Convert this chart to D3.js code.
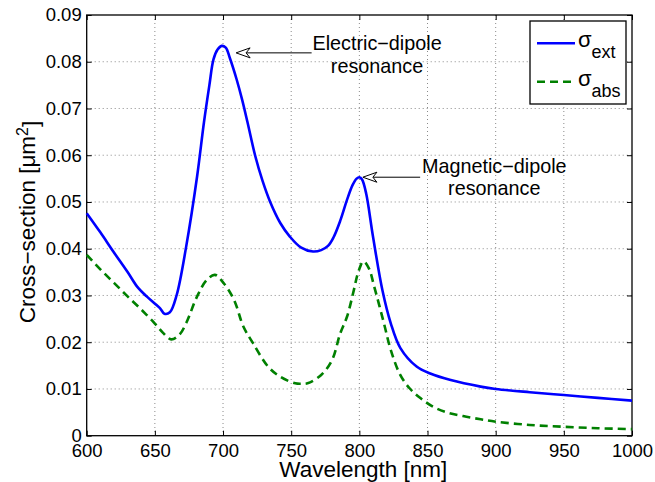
<!DOCTYPE html>
<html>
	<head>
		<script type="text/javascript" src="https://cdn.jsdelivr.net/npm/d3@7/dist/d3.min.js"></script>
		<style>
body {
	margin: 0;
	background-color: white;
}

text {
	font-family: "Liberation Sans", Arial, Helvetica, sans-serif;
	fill: black;
}

line.grid {
	stroke: #8a8a8a;
	stroke-width: 1;
	stroke-dasharray: 1,3;
}
		</style>
	</head>
	<body>
		<script>

// wavelength [nm] and cross-section [um^2]
var extWl = [600, 610, 619.5, 630, 637, 644, 651, 654, 657, 661, 666, 673, 681, 686, 690, 693, 696, 699, 702, 705, 710, 714, 718, 723.5, 729, 734.6, 742, 749, 757, 766, 772, 777, 781, 786, 791, 795, 798, 800, 802, 805, 810, 817, 823, 830, 842, 852, 867, 889, 900, 925, 950, 975, 1000];
var extVal = [0.0476, 0.0435, 0.0394, 0.0350, 0.0319, 0.0298, 0.0280, 0.0272, 0.0261, 0.0264, 0.0301, 0.0405, 0.0555, 0.0670, 0.0750, 0.0805, 0.0826, 0.0834, 0.0830, 0.0808, 0.0762, 0.0719, 0.0670, 0.0600, 0.0545, 0.0500, 0.0455, 0.0426, 0.0403, 0.0394, 0.0397, 0.0406, 0.0424, 0.0460, 0.0505, 0.0536, 0.0550, 0.0553, 0.0548, 0.0518, 0.0426, 0.0310, 0.0241, 0.0188, 0.0148, 0.0133, 0.0119, 0.0105, 0.0100, 0.0093, 0.0087, 0.0081, 0.0075];

var absWl = [600, 610, 620, 630, 640, 650, 656, 662, 668, 673, 681, 688, 694, 700, 708, 715, 722, 733, 742, 753, 757, 762, 772, 780, 786, 791, 796, 799, 803, 807, 811, 818, 823, 830, 837, 845, 854, 864, 876, 889, 900, 925, 950, 975, 1000];
var absVal = [0.0387, 0.0356, 0.0327, 0.0298, 0.0270, 0.0240, 0.0220, 0.0206, 0.0216, 0.0241, 0.0298, 0.0333, 0.0344, 0.0328, 0.0291, 0.0233, 0.0198, 0.0148, 0.0126, 0.0112, 0.0111, 0.0112, 0.0130, 0.0162, 0.0219, 0.0255, 0.0312, 0.0348, 0.0373, 0.0358, 0.0318, 0.0241, 0.0184, 0.0130, 0.0101, 0.0080, 0.0062, 0.0050, 0.0042, 0.0035, 0.0030, 0.0023, 0.0019, 0.0016, 0.0014];

var xTicks = [600, 650, 700, 750, 800, 850, 900, 950, 1000];
var yTicks = [0, 0.01, 0.02, 0.03, 0.04, 0.05, 0.06, 0.07, 0.08, 0.09];

var w = 655;
var h = 482;
var margin = {top: 15, right: 23, bottom: 46.3, left: 86.7};
var pw = w - margin.left - margin.right;
var ph = h - margin.top - margin.bottom;

var svg = d3.select("body").append("svg")
	.attr("width", w)
	.attr("height", h);

var g = svg.append("g")
	.attr("transform", "translate(" + margin.left + "," + margin.top + ")");

var x = d3.scaleLinear().domain([600, 1000]).range([0, pw]);
var y = d3.scaleLinear().domain([0, 0.09]).range([ph, 0]);

// dotted grid
g.selectAll("line.gx").data(xTicks.slice(1, -1)).enter().append("line")
	.attr("class", "grid")
	.attr("x1", function(d) { return x(d); })
	.attr("x2", function(d) { return x(d); })
	.attr("y1", 0)
	.attr("y2", ph);
g.selectAll("line.gy").data(yTicks.slice(1, -1)).enter().append("line")
	.attr("class", "grid")
	.attr("y1", function(d) { return y(d); })
	.attr("y2", function(d) { return y(d); })
	.attr("x1", 0)
	.attr("x2", pw);

function yFmt(d) {
	return d === 0 ? "0" : d3.format(".2f")(d);
}

// axes, ticks pointing inward like matlab
function styleAxis(sel) {
	sel.select(".domain").remove();
	sel.selectAll("line").attr("stroke", "black").attr("stroke-width", 1);
	sel.selectAll("text").style("font-size", "18.5px").attr("fill", "black");
}

g.append("g")
	.attr("transform", "translate(0," + ph + ")")
	.call(d3.axisBottom(x).tickValues(xTicks).tickSizeInner(-5).tickSizeOuter(0).tickPadding(8).tickFormat(d3.format("d")))
	.call(styleAxis);
g.append("g")
	.call(d3.axisTop(x).tickValues(xTicks).tickSizeInner(-5).tickSizeOuter(0).tickFormat(""))
	.call(styleAxis);
g.append("g")
	.call(d3.axisLeft(y).tickValues(yTicks).tickSizeInner(-5).tickSizeOuter(0).tickPadding(5).tickFormat(yFmt))
	.call(styleAxis);
g.append("g")
	.attr("transform", "translate(" + pw + ",0)")
	.call(d3.axisRight(y).tickValues(yTicks).tickSizeInner(-5).tickSizeOuter(0).tickFormat(""))
	.call(styleAxis);

g.append("rect")
	.attr("width", pw)
	.attr("height", ph)
	.attr("fill", "none")
	.attr("stroke", "black")
	.attr("stroke-width", 1.3);

// curves
var line = d3.line()
	.x(function(d) { return x(d[0]); })
	.y(function(d) { return y(d[1]); })
	.curve(d3.curveCatmullRom.alpha(0.5));

g.append("path")
	.datum(d3.zip(absWl, absVal))
	.attr("d", line)
	.attr("fill", "none")
	.attr("stroke", "#008000")
	.attr("stroke-width", 2.6)
	.attr("stroke-dasharray", "8,5");

g.append("path")
	.datum(d3.zip(extWl, extVal))
	.attr("d", line)
	.attr("fill", "none")
	.attr("stroke", "#0000ff")
	.attr("stroke-width", 2.6);

// annotations (positions in data units)
function arrow(x1, x2, yv) {
	var ya = y(yv);
	var tip = x(x2);
	g.append("line")
		.attr("x1", x(x1)).attr("x2", tip + 4)
		.attr("y1", ya).attr("y2", ya)
		.attr("stroke", "black").attr("stroke-width", 1);
	g.append("path")
		.attr("d", "M" + tip + "," + ya + " L" + (tip + 14) + "," + (ya - 5) +
			" L" + (tip + 10) + "," + ya + " L" + (tip + 14) + "," + (ya + 5) + " Z")
		.attr("fill", "white")
		.attr("stroke", "black")
		.attr("stroke-width", 1);
}

function note(cx, y1, y2, l1, l2) {
	var t = g.append("text")
		.attr("text-anchor", "middle")
		.style("font-size", "19.8px");
	t.append("tspan").attr("x", x(cx)).attr("y", y(y1)).text(l1);
	t.append("tspan").attr("x", x(cx)).attr("y", y(y2)).text(l2);
}

arrow(765, 709.6, 0.0819);
note(813, 0.0826, 0.0776, "Electric\u2212dipole", "resonance");
arrow(844.6, 802.6, 0.0553);
note(899, 0.0562, 0.0515, "Magnetic\u2212dipole", "resonance");

// axis labels
svg.append("text")
	.attr("x", margin.left + pw / 2 + 4)
	.attr("y", 477)
	.attr("text-anchor", "middle")
	.style("font-size", "22.5px")
	.text("Wavelength [nm]");

var yl = svg.append("text")
	.attr("transform", "translate(35,222) rotate(-90)")
	.attr("text-anchor", "middle")
	.style("font-size", "22.5px");
yl.append("tspan").text("Cross\u2212section [\u03bcm");
yl.append("tspan").attr("dy", "-0.45em").style("font-size", "16px").text("2");
yl.append("tspan").attr("dy", "0.45em").text("]");

// legend
var legend = svg.append("g").attr("transform", "translate(530,21)");
legend.append("rect")
	.attr("width", 96)
	.attr("height", 83)
	.attr("fill", "white")
	.attr("stroke", "black")
	.attr("stroke-width", 1.3);

var legItems = [
	{sub: "ext", color: "#0000ff", dash: null},
	{sub: "abs", color: "#008000", dash: "8,5"}
];
legItems.forEach(function(d, i) {
	var ly = 22.3 + i * 38.4;
	legend.append("line")
		.attr("x1", 7).attr("x2", 45)
		.attr("y1", ly).attr("y2", ly)
		.attr("stroke", d.color)
		.attr("stroke-width", 2.6)
		.attr("stroke-dasharray", d.dash);
	var t = legend.append("text")
		.attr("x", 48)
		.attr("y", ly + 4)
		.style("font-size", "22px");
	t.append("tspan").text("\u03c3");
	t.append("tspan").attr("dy", 11).style("font-size", "18px").text(d.sub);
});

		</script>
	</body>
</html>
